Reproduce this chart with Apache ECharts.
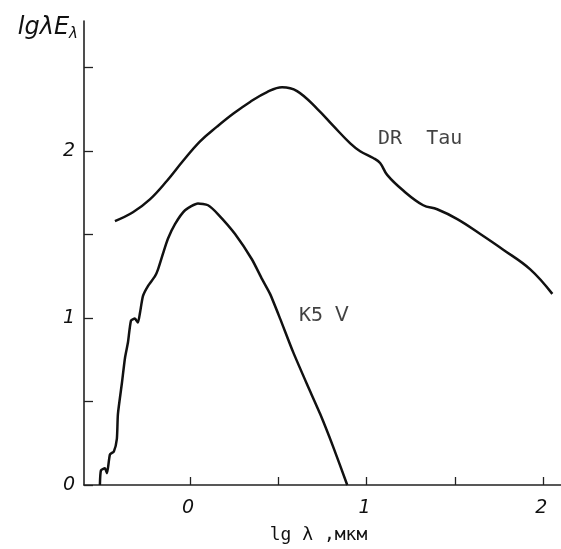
<!DOCTYPE html>
<html>
<head>
<meta charset="utf-8">
<script src="https://cdn.jsdelivr.net/npm/echarts@6/dist/echarts.min.js"></script>
<style>
html,body{margin:0;padding:0;background:#fff;}
#c{width:561px;height:549px;}
</style>
</head>
<body>
<div id="c"></div>
<script>
// DR Tau curve: [lg lambda, lg lambda*E_lambda]
const drTauX = [-0.425,-0.323,-0.227,-0.130,-0.040,0.057,0.153,0.244,0.340,0.436,0.521,0.606,0.720,0.810,0.907,0.963,1.037,1.076,1.116,1.207,1.320,1.399,1.513,1.643,1.773,1.926,2.051];
const drTauY = [1.581,1.634,1.711,1.823,1.941,2.059,2.147,2.224,2.295,2.354,2.383,2.360,2.254,2.153,2.047,2.000,1.959,1.929,1.858,1.764,1.676,1.652,1.593,1.504,1.410,1.292,1.145];
// K5 V curve
const k5X = [-0.510,-0.504,-0.482,-0.470,-0.453,-0.431,-0.414,-0.408,-0.385,-0.368,-0.351,-0.334,-0.312,-0.295,-0.283,-0.266,-0.238,-0.198,-0.181,-0.153,-0.125,-0.085,-0.028,0.045,0.102,0.159,0.255,0.351,0.408,0.453,0.510,0.584,0.663,0.737,0.810,0.890];
const k5Y = [0.000,0.088,0.100,0.071,0.183,0.201,0.277,0.425,0.614,0.761,0.855,0.985,0.997,0.973,1.032,1.133,1.192,1.251,1.292,1.386,1.475,1.563,1.646,1.687,1.676,1.622,1.504,1.351,1.233,1.145,0.997,0.796,0.602,0.425,0.230,0.000];
// ticks and labels
const xTicks = [0,0.5,1,1.5,2];
const xLabels = [0,1,2];
const yTicks = [0,0.5,1,1.5,2,2.5];
const yLabels = [0,1,2];
// curve labels [x, y, text]
const curveLabels = [[1.303,2.077,'DR  Tau'],[0.759,1.015,'K5 Ⅴ']];

const zip = (a,b) => a.map((v,i)=>[v,b[i]]);
const axisCol = '#222';
const txt = '#111';
const chart = echarts.init(document.getElementById('c'), null, {renderer:'canvas'});
chart.setOption({
  animation:false,
  backgroundColor:'#fff',
  grid:{left:84,right:0,top:21,bottom:57,containLabel:false},
  xAxis:{
    type:'value',min:-0.6,max:2.1,
    splitLine:{show:false},
    axisLine:{onZero:false,lineStyle:{color:axisCol,width:1.6}},
    axisTick:{inside:true,length:8,customValues:xTicks,lineStyle:{color:axisCol,width:1.3}},
    axisLabel:{customValues:xLabels,margin:14,color:txt,fontSize:19,fontStyle:'italic',fontFamily:'DejaVu Sans',padding:[0,4,0,0]},
    name:'lg λ ,мкм',nameLocation:'middle',nameGap:41,
    nameTextStyle:{color:txt,fontSize:18,fontFamily:'DejaVu Sans Mono',padding:[0,8,0,0]}
  },
  yAxis:{
    type:'value',min:0,max:2.78,
    splitLine:{show:false},
    axisLine:{onZero:false,lineStyle:{color:axisCol,width:1.6}},
    axisTick:{inside:true,length:9,customValues:yTicks,lineStyle:{color:axisCol,width:1.3}},
    axisLabel:{customValues:yLabels,margin:9,color:txt,fontSize:19,fontStyle:'italic',fontFamily:'DejaVu Sans',padding:[6,0,0,0]},
    name:'lgλE{s|λ}',nameLocation:'end',nameGap:-7,
    nameTextStyle:{color:txt,fontSize:24,fontFamily:'DejaVu Sans',fontStyle:'italic',align:'right',verticalAlign:'middle',padding:[0,6,0,0],
      rich:{s:{fontSize:15,fontFamily:'DejaVu Sans',fontStyle:'italic',verticalAlign:'bottom',padding:[12,0,0,0],color:txt}}}
  },
  series:[
    {type:'line',data:zip(drTauX,drTauY),showSymbol:false,smooth:0.4,
     lineStyle:{color:'#111',width:2.5}},
    {type:'line',data:zip(k5X,k5Y),showSymbol:false,smooth:0.2,
     lineStyle:{color:'#111',width:2.5}},
    {type:'scatter',data:curveLabels.map(d=>({value:[d[0],d[1]],name:d[2]})),
     symbol:'circle',symbolSize:1,itemStyle:{color:'rgba(0,0,0,0)'},silent:true,
     label:{show:true,position:'inside',formatter:p=>p.name,color:txt,fontSize:20,fontFamily:'DejaVu Sans Mono'}}
  ]
});
</script>
</body>
</html>
